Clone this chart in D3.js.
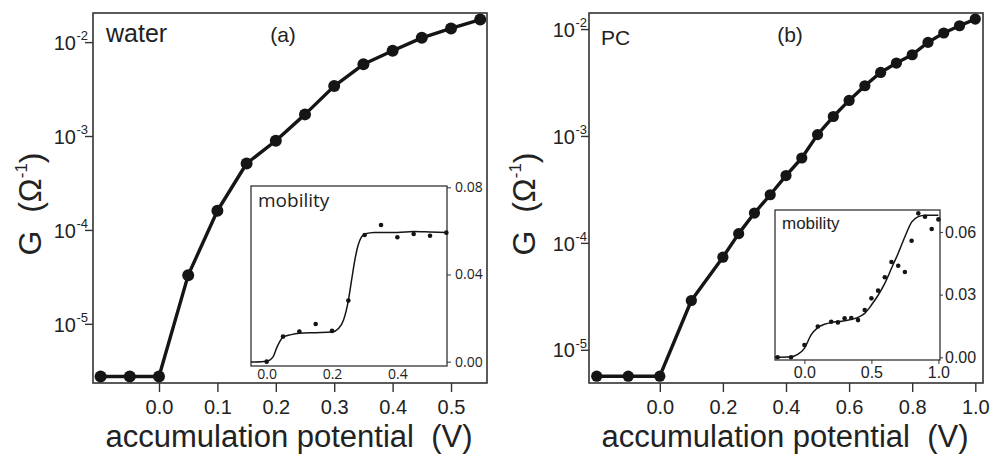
<!DOCTYPE html>
<html>
<head>
<meta charset="utf-8">
<script src="https://cdn.jsdelivr.net/npm/d3@7"></script>
<style>
  body { margin: 0; background: #fff; }
  svg { display: block; font-family: "Liberation Sans", Arial, sans-serif; }
  .pre { white-space: pre; }
</style>
</head>
<body>
<svg id="chart" width="993" height="456"></svg>
<script>
// ---- (a) water : G vs accumulation potential
const waterV = [-0.1, -0.05, 0.0, 0.05, 0.1, 0.15, 0.2, 0.25, 0.3, 0.35, 0.4, 0.45, 0.5, 0.55];
const waterG = [2.75e-6, 2.75e-6, 2.75e-6, 3.3e-5, 1.6e-4, 5.1e-4, 8.9e-4, 1.7e-3, 3.4e-3, 5.8e-3, 8.1e-3, 1.11e-2, 1.4e-2, 1.74e-2];

// inset (a): mobility points + fit
const waterMobV = [0.0, 0.05, 0.1, 0.15, 0.2, 0.25, 0.3, 0.35, 0.4, 0.45, 0.5, 0.55];
const waterMob  = [0.0, 0.0115, 0.0138, 0.0173, 0.0141, 0.028, 0.0581, 0.0627, 0.0571, 0.0586, 0.0578, 0.0592];
const waterFitV = [-0.048, 0.0, 0.02, 0.03, 0.04, 0.05, 0.075, 0.1, 0.15, 0.2, 0.22, 0.235, 0.25, 0.26, 0.27, 0.28, 0.29, 0.3, 0.33, 0.4, 0.45, 0.5, 0.55];
const waterFit  = [-0.0002, 0.0002, 0.0023, 0.0061, 0.0092, 0.0112, 0.0124, 0.013, 0.0133, 0.0136, 0.0152, 0.019, 0.028, 0.0375, 0.0467, 0.0535, 0.0571, 0.0586, 0.0593, 0.0593, 0.0597, 0.0595, 0.0593];

// ---- (b) PC
const pcV = [-0.2, -0.1, 0.0, 0.1, 0.2, 0.25, 0.3, 0.35, 0.4, 0.45, 0.5, 0.55, 0.6, 0.65, 0.7, 0.75, 0.8, 0.85, 0.9, 0.95, 1.0];
const pcG = [5.66e-6, 5.66e-6, 5.66e-6, 2.89e-5, 7.35e-5, 1.22e-4, 1.9e-4, 2.82e-4, 4.26e-4, 6.22e-4, 1.03e-3, 1.52e-3, 2.15e-3, 2.95e-3, 3.93e-3, 4.81e-3, 5.75e-3, 7.5e-3, 9.18e-3, 1.074e-2, 1.24e-2];

const pcMobV = [-0.2, -0.1, 0.0, 0.1, 0.2, 0.25, 0.3, 0.35, 0.4, 0.45, 0.5, 0.55, 0.6, 0.65, 0.7, 0.75, 0.8, 0.85, 0.9, 0.95, 1.0];
const pcMob  = [0.0, 0.0, 0.0059, 0.0147, 0.017, 0.0167, 0.0187, 0.0188, 0.0178, 0.0226, 0.0282, 0.0319, 0.0383, 0.0456, 0.0438, 0.0408, 0.0558, 0.0689, 0.0673, 0.0614, 0.066];
const pcFitV = [-0.22, -0.1, -0.05, 0.0, 0.05, 0.1, 0.15, 0.2, 0.3, 0.4, 0.45, 0.5, 0.55, 0.6, 0.65, 0.7, 0.75, 0.8, 0.85, 0.9, 1.0];
const pcFit  = [0.0, 0.0003, 0.0014, 0.0043, 0.0107, 0.0142, 0.0158, 0.0166, 0.0175, 0.0191, 0.021, 0.025, 0.0297, 0.0354, 0.0426, 0.0498, 0.0577, 0.0647, 0.0673, 0.068, 0.068];

// ---- ticks
const gTicks = [1e-5, 1e-4, 1e-3, 1e-2];
const waterXTicks = [0.0, 0.1, 0.2, 0.3, 0.4, 0.5];
const pcXTicks = [0.0, 0.2, 0.4, 0.6, 0.8, 1.0];
const waterInsetXTicks = [0.0, 0.2, 0.4];
const waterInsetYTicks = [0.0, 0.04, 0.08];
const pcInsetXTicks = [0.0, 0.5, 1.0];
const pcInsetYTicks = [0.0, 0.03, 0.06];

const INK = "#151515", FRAME = "#333";
const svg = d3.select("#chart");

function styleAxis(ax, size) {
  ax.attr("font-family", null).attr("font-size", size);
  ax.select(".domain").remove();
  ax.selectAll(".tick line").attr("stroke", FRAME).attr("stroke-width", 1.4);
  ax.selectAll(".tick text").attr("fill", "#222");
}

function panel(o) {
  const [x0, y0, x1, y1] = o.box;
  const x = d3.scaleLinear().domain(o.xDom).range([x0, x1]);
  const y = d3.scaleLog().domain(o.yDom).range([y1, y0]);
  const g = svg.append("g");

  // y axis, log decades with superscript labels
  const ya = g.append("g")
    .attr("transform", `translate(${x0},0)`)
    .call(d3.axisLeft(y).tickValues(gTicks).tickSize(8).tickFormat(""));
  styleAxis(ya, 20);
  ya.selectAll(".tick text").remove();
  ya.selectAll(".tick").append("text")
    .attr("x", -o.labOff).attr("dy", "0.36em")
    .attr("text-anchor", "end").attr("font-size", 20).attr("fill", "#222")
    .text("10");
  ya.selectAll(".tick").append("text")
    .attr("x", -o.labOff + 0.5).attr("dy", "-0.2em")
    .attr("text-anchor", "start").attr("font-size", 13).attr("fill", "#222")
    .text(d => "-" + Math.round(-Math.log10(d)));

  // x axis
  const xa = g.append("g")
    .attr("transform", `translate(0,${y1})`)
    .call(d3.axisBottom(x).tickValues(o.xTicks).tickSize(9).tickPadding(8).tickFormat(d3.format(".1f")));
  styleAxis(xa, 20);

  // frame
  g.append("rect")
    .attr("x", x0).attr("y", y0).attr("width", x1 - x0).attr("height", y1 - y0)
    .attr("fill", "none").attr("stroke", FRAME).attr("stroke-width", 1.6);

  // data line + markers
  const pts = o.v.map((v, i) => ({ v, g: o.g[i] }));
  g.append("path").datum(pts)
    .attr("fill", "none").attr("stroke", INK).attr("stroke-width", 3.4)
    .attr("stroke-linejoin", "round")
    .attr("d", d3.line().x(d => x(d.v)).y(d => y(d.g)));
  g.selectAll("circle.m").data(pts).join("circle")
    .attr("class", "m")
    .attr("cx", d => x(d.v)).attr("cy", d => y(d.g)).attr("r", o.r)
    .attr("fill", INK);

  // labels
  g.append("text").attr("x", o.name[1]).attr("y", o.name[2])
    .attr("font-size", o.name[3]).attr("fill", "#222").text(o.name[0]);
  g.append("text").attr("x", o.tag[1]).attr("y", o.tag[2])
    .attr("text-anchor", "middle").attr("font-size", 21).attr("fill", "#222").text(o.tag[0]);

  // axis titles
  g.append("text").attr("class", "pre")
    .attr("x", (x0 + x1) / 2 - 1).attr("y", 447)
    .attr("text-anchor", "middle").attr("font-size", 31).attr("fill", "#222")
    .text("accumulation potential  (V)");
  const yt = g.append("text").attr("class", "pre")
    .attr("transform", `translate(${o.yTitleX},204) rotate(-90)`)
    .attr("text-anchor", "middle").attr("font-size", 32).attr("fill", "#222");
  yt.append("tspan").text("G  (Ω");
  yt.append("tspan").attr("font-size", 17).attr("dy", "-0.85em").text("-1");
  yt.append("tspan").attr("dy", "0.47em").text(")");

  inset(g, o.inset);
}

function inset(g, o) {
  const [x0, y0, x1, y1] = o.box;
  const x = d3.scaleLinear().domain(o.xDom).range([x0, x1]);
  const y = d3.scaleLinear().domain(o.yDom).range([y1, y0]);
  const ig = g.append("g").attr("font-family", o.font);

  ig.append("rect")
    .attr("x", x0).attr("y", y0).attr("width", x1 - x0).attr("height", y1 - y0)
    .attr("fill", "#fff");

  const ya = ig.append("g")
    .attr("transform", `translate(${x1},0)`)
    .call(d3.axisRight(y).tickValues(o.yTicks).tickSize(o.tick).tickPadding(o.pad).tickFormat(d3.format(".2f")));
  styleAxis(ya, o.fs);
  ya.selectAll(".tick line").attr("stroke-width", 1);

  const xa = ig.append("g")
    .attr("transform", `translate(0,${y1})`)
    .call(d3.axisBottom(x).tickValues(o.xTicks).tickSize(o.xTick).tickPadding(o.xPad).tickFormat(d3.format(".1f")));
  styleAxis(xa, o.fs);
  xa.selectAll(".tick line").attr("stroke-width", 1);

  ig.append("rect")
    .attr("x", x0).attr("y", y0).attr("width", x1 - x0).attr("height", y1 - y0)
    .attr("fill", "none").attr("stroke", FRAME).attr("stroke-width", 1.3);

  const fit = o.fitV.map((v, i) => [v, o.fit[i]]);
  ig.append("path").datum(fit)
    .attr("fill", "none").attr("stroke", INK).attr("stroke-width", 1.5)
    .attr("d", d3.line().x(d => x(d[0])).y(d => y(d[1])).curve(d3.curveMonotoneX));

  ig.selectAll("circle").data(o.v.map((v, i) => [v, o.m[i]])).join("circle")
    .attr("cx", d => x(d[0])).attr("cy", d => y(d[1])).attr("r", 2.3)
    .attr("fill", INK);

  ig.append("text").attr("x", o.label[0]).attr("y", o.label[1])
    .attr("font-size", o.label[2]).attr("fill", "#222").text("mobility");
}

panel({
  box: [93, 13, 487, 383],
  xDom: [-0.113, 0.5616], yDom: [2.344e-6, 2.042e-2],
  xTicks: waterXTicks, v: waterV, g: waterG, r: 6, labOff: 17,
  name: ["water", 106, 42, 25], tag: ["(a)", 283, 42],
  yTitleX: 41,
  inset: {
    box: [251, 186, 447, 366], xDom: [-0.048, 0.552], yDom: [-0.002, 0.0806],
    xTicks: waterInsetXTicks, yTicks: waterInsetYTicks,
    tick: 4, pad: 4, xTick: 0, xPad: 3, fs: 14, font: "'Open Sans', sans-serif",
    v: waterMobV, m: waterMob, fitV: waterFitV, fit: waterFit,
    label: [258, 207, 19]
  }
});

panel({
  box: [589, 13, 983, 383],
  xDom: [-0.2244, 1.0244], yDom: [4.89e-6, 1.413e-2],
  xTicks: pcXTicks, v: pcV, g: pcG, r: 5.6, labOff: 14,
  name: ["PC", 601, 45, 21], tag: ["(b)", 790, 42],
  yTitleX: 535,
  inset: {
    box: [775, 210, 940, 360], xDom: [-0.2194, 1.0119], yDom: [-0.0013, 0.0705],
    xTicks: pcInsetXTicks, yTicks: pcInsetYTicks,
    tick: 3, pad: 2, xTick: 4, xPad: 3, fs: 16, font: "'Liberation Sans', Arial, sans-serif",
    v: pcMobV, m: pcMob, fitV: pcFitV, fit: pcFit,
    label: [782, 229, 17]
  }
});
</script>
</body>
</html>
